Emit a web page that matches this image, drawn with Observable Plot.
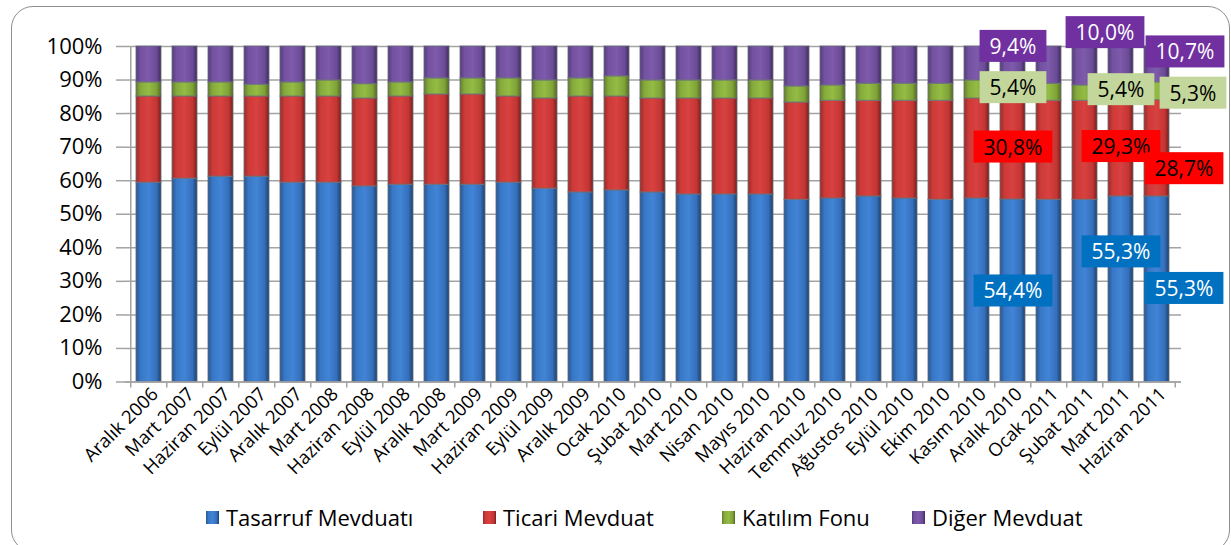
<!DOCTYPE html>
<html>
<head>
<meta charset="utf-8">
<script src="https://cdn.jsdelivr.net/npm/d3@7"></script>
<script src="https://cdn.jsdelivr.net/npm/@observablehq/plot@0.6"></script>
<style>
  html, body { margin: 0; padding: 0; background: #fff; }
  body { width: 1231px; height: 545px; overflow: hidden; position: relative; font-family: "Open Sans", sans-serif; }
  #frame { position: absolute; left: 11px; top: 6px; width: 1219px; height: 546px; border: 1.5px solid #8e8e8e; border-radius: 22px; box-sizing: border-box; }
  #chart { position: absolute; left: 0; top: 0; }
  #legend { position: absolute; left: 0; top: 502px; width: 1231px; height: 30px; }
  .item { position: absolute; top: 0; height: 30px; display: flex; align-items: center; font-size: 22px; color: #000; white-space: nowrap; }
  .sw { width: 13px; height: 13px; margin-right: 7px; }
</style>
</head>
<body>
<svg width="0" height="0" style="position:absolute">
  <defs>
    <linearGradient id="gBlue" x1="0" x2="1" y1="0" y2="0">
      <stop offset="0" stop-color="#28558e"/><stop offset="0.18" stop-color="#3877c6"/>
      <stop offset="0.5" stop-color="#4184d6"/><stop offset="0.82" stop-color="#356fba"/>
      <stop offset="1" stop-color="#1c3f6e"/>
    </linearGradient>
    <linearGradient id="gRed" x1="0" x2="1" y1="0" y2="0">
      <stop offset="0" stop-color="#9a2a28"/><stop offset="0.18" stop-color="#cc3a38"/>
      <stop offset="0.5" stop-color="#d8413f"/><stop offset="0.82" stop-color="#c23634"/>
      <stop offset="1" stop-color="#7c1e1d"/>
    </linearGradient>
    <linearGradient id="gGreen" x1="0" x2="1" y1="0" y2="0">
      <stop offset="0" stop-color="#637f2a"/><stop offset="0.18" stop-color="#85aa3c"/>
      <stop offset="0.5" stop-color="#94bb44"/><stop offset="0.82" stop-color="#7fa238"/>
      <stop offset="1" stop-color="#506a20"/>
    </linearGradient>
    <linearGradient id="gPurple" x1="0" x2="1" y1="0" y2="0">
      <stop offset="0" stop-color="#553a7c"/><stop offset="0.18" stop-color="#7352a0"/>
      <stop offset="0.5" stop-color="#7d5aab"/><stop offset="0.82" stop-color="#6b4b96"/>
      <stop offset="1" stop-color="#402a60"/>
    </linearGradient>
  </defs>
</svg>
<div id="frame"></div>
<div id="chart"></div>
<div id="legend"></div>
<script>
// ---------- data ----------
const categories = [
  "Aralık 2006","Mart 2007","Haziran 2007","Eylül 2007","Aralık 2007","Mart 2008",
  "Haziran 2008","Eylül 2008","Aralık 2008","Mart 2009","Haziran 2009","Eylül 2009",
  "Aralık 2009","Ocak 2010","Şubat 2010","Mart 2010","Nisan 2010","Mayıs 2010",
  "Haziran 2010","Temmuz 2010","Ağustos 2010","Eylül 2010","Ekim 2010","Kasım 2010",
  "Aralık 2010","Ocak 2011","Şubat 2011","Mart 2011","Haziran 2011"
];
const series = ["Tasarruf Mevduatı", "Ticari Mevduat", "Katılım Fonu", "Diğer Mevduat"];
const tasarruf = [59.4,60.6,61.2,61.2,59.4,59.4,58.3,58.8,58.8,58.8,59.4,57.6,56.5,57.1,56.5,55.9,55.9,55.9,54.3,54.7,55.3,54.7,54.3,54.7,54.4,54.3,54.3,55.3,55.3];
const ticari   = [25.7,24.5,23.9,23.9,25.7,25.7,26.2,26.3,26.9,26.9,25.7,26.9,28.6,28.0,28.0,28.6,28.6,28.6,29.0,29.1,28.5,29.1,29.5,29.8,30.8,29.5,29.5,29.3,28.7];
const katilim  = [4.2,4.2,4.2,3.5,4.2,4.8,4.3,4.2,4.8,4.8,5.4,5.4,5.4,6.0,5.4,5.4,5.4,5.4,4.8,4.6,5.1,5.1,5.1,5.4,5.4,5.1,4.6,5.4,5.3];
const diger    = [10.7,10.7,10.7,11.4,10.7,10.1,11.2,10.7,9.5,9.5,9.5,10.1,9.5,8.9,10.1,10.1,10.1,10.1,11.9,11.6,11.1,11.1,11.1,10.1,9.4,11.1,11.6,10.0,10.7];
const yTicks = [0,10,20,30,40,50,60,70,80,90,100];
const labeledCats = ["Aralık 2010", "Mart 2011", "Haziran 2011"];

// ---------- styling ----------
const seriesValues = [tasarruf, ticari, katilim, diger];
const gradients = ["url(#gBlue)", "url(#gRed)", "url(#gGreen)", "url(#gPurple)"];
const boxFill = ["#0070C0", "#FF0000", "#C3D69B", "#7030A0"];
const textFill = ["#ffffff", "#000000", "#000000", "#ffffff"];
// label nudges: [dx px, dy in % units] from segment midpoint
const nudge = {
  "Aralık 2010":  [[0, -0.3], [0, 0], [0, -0.4], [0, 4.5]],
  "Mart 2011":    [[0, 10.9], [0, 0], [0, -0.4], [-16, 8.9]],
  "Haziran 2011": [[27, 0], [27, -6.3], [36, -0.8], [28, 3.5]]
};
const fmt = v => v.toFixed(1).replace(".", ",") + "%";
const FONT = "'Open Sans', sans-serif";

const rows = [];
categories.forEach((cat, i) => series.forEach((s, k) => rows.push({cat, series: s, value: seriesValues[k][i]})));

const W = 1231, H = 503, ML = 125, MR = 50, MT = 46, MB = 121.5;
const step = (W - ML - MR) / categories.length;

const labelMarks = [];
const labelBoxes = [];
labeledCats.forEach(cat => {
  const i = categories.indexOf(cat);
  let cum = 0;
  seriesValues.forEach((arr, k) => {
    const v = arr[i];
    const mid = cum + v / 2;
    cum += v;
    const [dx, dyp] = nudge[cat][k];
    labelMarks.push(Plot.text([{cat, y: mid + dyp, t: fmt(v)}], {
      x: "cat", y: "y", text: "t", dx, fill: textFill[k], fontSize: 21, fontFamily: FONT
    }));
    labelBoxes.push(boxFill[k]);
  });
});

const chart = Plot.plot({
  width: W, height: H,
  marginLeft: ML, marginRight: MR, marginTop: MT, marginBottom: MB,
  style: {fontFamily: FONT, background: "transparent", overflow: "visible"},
  x: {domain: categories, paddingInner: 0.3, paddingOuter: 0.15, label: null},
  y: {domain: [0, 100], label: null},
  color: {domain: series, range: gradients, type: "ordinal"},
  marks: [
    Plot.gridY(yTicks, {stroke: "#a3a3a3", strokeOpacity: 1, strokeWidth: 1.5}),
    Plot.axisY({ticks: yTicks, tickFormat: d => d + "%", tickSize: 9, tickPadding: 14,
      stroke: "#a3a3a3", strokeWidth: 1.5, fill: "#000", fontSize: 22, label: null}),
    Plot.barY(rows, Plot.stackY({x: "cat", y: "value", fill: "series",
      stroke: "#6a7078", strokeOpacity: 0.7, strokeWidth: 1.2})),
    Plot.ruleX([categories[0]], {x: d => d, dx: -step / 2, y1: 0, y2: 100, stroke: "#a3a3a3", strokeWidth: 1.5}),
    Plot.ruleY([0], {stroke: "#a3a3a3", strokeWidth: 1.5}),
    Plot.ruleX(categories, {x: d => d, dx: -step / 2, y1: 0, y2: 0, insetTop: 6, stroke: "#a3a3a3", strokeWidth: 1.5}),
    Plot.ruleX([categories[categories.length - 1]], {x: d => d, dx: step / 2, y1: 0, y2: 0, insetTop: 6, stroke: "#a3a3a3", strokeWidth: 1.5}),
    Plot.axisX({tickRotate: -45, tickSize: 0, tickPadding: 9, dx: 6, fontSize: 18.5, fill: "#000", label: null}),
    ...labelMarks
  ]
});
document.getElementById("chart").append(chart);

// background boxes behind the data labels
const groups = chart.querySelectorAll('g[aria-label="text"]');
groups.forEach((g, j) => {
  const t = g.querySelector("text");
  if (!t) return;
  const bb = t.getBBox();
  const r = document.createElementNS("http://www.w3.org/2000/svg", "rect");
  r.setAttribute("x", bb.x - 10);
  r.setAttribute("y", bb.y - 2);
  r.setAttribute("width", bb.width + 20);
  r.setAttribute("height", bb.height + 4);
  r.setAttribute("fill", labelBoxes[j]);
  if (t.getAttribute("transform")) r.setAttribute("transform", t.getAttribute("transform"));
  g.insertBefore(r, t);
});

// legend
const legendX = [206, 483, 722, 912];
const legend = document.getElementById("legend");
series.forEach((s, k) => {
  const it = document.createElement("div");
  it.className = "item";
  it.style.left = legendX[k] + "px";
  const sw = document.createElementNS("http://www.w3.org/2000/svg", "svg");
  sw.setAttribute("class", "sw");
  sw.setAttribute("width", 13); sw.setAttribute("height", 13);
  const rr = document.createElementNS("http://www.w3.org/2000/svg", "rect");
  rr.setAttribute("width", 13); rr.setAttribute("height", 13);
  rr.setAttribute("fill", gradients[k]);
  sw.append(rr);
  it.append(sw);
  it.append(document.createTextNode(s));
  legend.append(it);
});
</script>
</body>
</html>
